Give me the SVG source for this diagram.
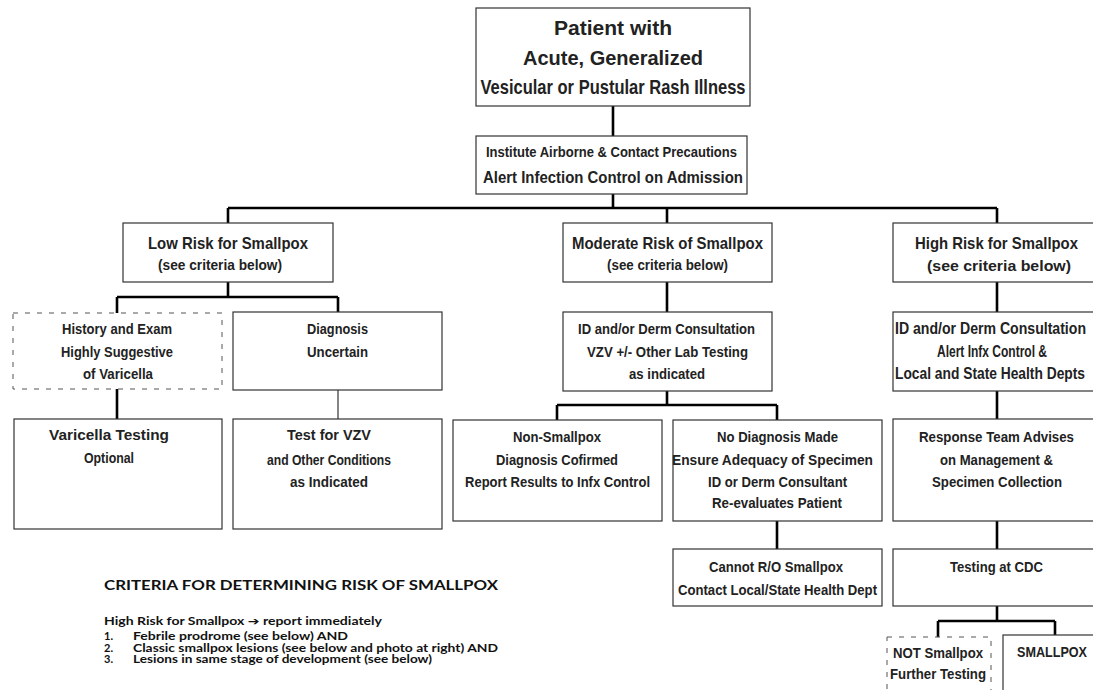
<svg xmlns="http://www.w3.org/2000/svg" width="1093" height="690" viewBox="0 0 1093 690">
<style>
.box{fill:#fff;stroke:#333;stroke-width:1.2}
.dash{fill:#fff;stroke:#555;stroke-width:1;stroke-dasharray:5 7}
.t{font-family:"Liberation Sans Narrow","Liberation Sans",Arial,sans-serif;font-weight:bold;fill:#222;text-anchor:middle}
.c{font-family:Lato,"Open Sans","Liberation Sans",sans-serif;fill:#111}
.thick{stroke:#000;stroke-width:2.6;fill:none}
.thin{stroke:#333;stroke-width:1.2;fill:none}
</style>
<rect width="1093" height="690" fill="#fff"/>
<g id="connectors">
<path class="thick" d="M613 106V136M613 194V208M228 208H997M228 208V223M667 208V223M997 208V223"/>
<path class="thick" d="M228 282V297M117 297H338M117 297V313M338 297V312M117 389V419"/>
<path class="thin" d="M338 390V419"/>
<path class="thick" d="M667 282V312M667 391V405M557 405H777M557 405V420M777 405V420M777 521V549"/>
<path class="thick" d="M997 282V312M997 391V419M997 521V549M997 606V621M938 621H1055M938 621V637M1055 621V635"/>
</g>
<g id="n-patient"><rect class="box" x="476" y="8" width="274" height="98"/>
<text class="t" font-size="20.5"><tspan x="613" y="35" textLength="118" lengthAdjust="spacingAndGlyphs">Patient with</tspan><tspan x="613" y="65" textLength="180" lengthAdjust="spacingAndGlyphs">Acute, Generalized</tspan><tspan x="613" y="94" textLength="265" lengthAdjust="spacingAndGlyphs">Vesicular or Pustular Rash Illness</tspan></text></g>
<g id="n-precautions"><rect class="box" x="476" y="136" width="271" height="58"/>
<text class="t" font-size="15"><tspan x="611.5" y="157" textLength="251" lengthAdjust="spacingAndGlyphs">Institute Airborne &amp; Contact Precautions</tspan></text>
<text class="t" font-size="16.5"><tspan x="613" y="183" textLength="260" lengthAdjust="spacingAndGlyphs">Alert Infection Control on Admission</tspan></text></g>
<g id="n-low"><rect class="box" x="123" y="223" width="210" height="59"/>
<text class="t" font-size="17"><tspan x="228" y="248.5" textLength="160" lengthAdjust="spacingAndGlyphs">Low Risk for Smallpox</tspan></text>
<text class="t" font-size="14"><tspan x="220" y="270" textLength="124" lengthAdjust="spacingAndGlyphs">(see criteria below)</tspan></text></g>
<g id="n-moderate"><rect class="box" x="563" y="223" width="209" height="59"/>
<text class="t" font-size="17"><tspan x="667.5" y="248.5" textLength="191" lengthAdjust="spacingAndGlyphs">Moderate Risk of Smallpox</tspan></text>
<text class="t" font-size="14"><tspan x="667.5" y="270" textLength="121" lengthAdjust="spacingAndGlyphs">(see criteria below)</tspan></text></g>
<g id="n-high"><rect class="box" x="893" y="223" width="210" height="59"/>
<text class="t" font-size="17"><tspan x="996.5" y="248.5" textLength="163" lengthAdjust="spacingAndGlyphs">High Risk for Smallpox</tspan></text>
<text class="t" font-size="15"><tspan x="999" y="270.5" textLength="144" lengthAdjust="spacingAndGlyphs">(see criteria below)</tspan></text></g>
<g id="n-history"><rect class="dash" x="13" y="313" width="209" height="76"/>
<text class="t" font-size="15.5"><tspan x="117" y="333.5" textLength="110" lengthAdjust="spacingAndGlyphs">History and Exam</tspan><tspan x="117" y="356.5" textLength="112" lengthAdjust="spacingAndGlyphs">Highly Suggestive</tspan><tspan x="118" y="378.5" textLength="70" lengthAdjust="spacingAndGlyphs">of Varicella</tspan></text></g>
<g id="n-uncertain"><rect class="box" x="233" y="312" width="209" height="78"/>
<text class="t" font-size="15.5"><tspan x="337.5" y="333.5" textLength="61" lengthAdjust="spacingAndGlyphs">Diagnosis</tspan><tspan x="337.5" y="356.5" textLength="61" lengthAdjust="spacingAndGlyphs">Uncertain</tspan></text></g>
<g id="n-idmod"><rect class="box" x="563" y="312" width="209" height="79"/>
<text class="t" font-size="15.5"><tspan x="666.5" y="333.5" textLength="177" lengthAdjust="spacingAndGlyphs">ID and/or Derm Consultation</tspan><tspan x="667.5" y="356.5" textLength="161" lengthAdjust="spacingAndGlyphs">VZV +/- Other Lab Testing</tspan><tspan x="667" y="378.5" textLength="76" lengthAdjust="spacingAndGlyphs">as indicated</tspan></text></g>
<g id="n-idhigh"><rect class="box" x="893" y="312" width="210" height="79"/>
<text class="t" font-size="16"><tspan x="990.5" y="333.5" textLength="191" lengthAdjust="spacingAndGlyphs">ID and/or Derm Consultation</tspan><tspan x="992" y="356.5" textLength="110" lengthAdjust="spacingAndGlyphs">Alert Infx Control &amp;</tspan><tspan x="990" y="378.5" textLength="190" lengthAdjust="spacingAndGlyphs">Local and State Health Depts</tspan></text></g>
<g id="n-vartest"><rect class="box" x="14" y="419" width="208" height="110"/>
<text class="t" font-size="15.5"><tspan x="109" y="440" textLength="120" lengthAdjust="spacingAndGlyphs">Varicella Testing</tspan><tspan x="109" y="463" textLength="50" lengthAdjust="spacingAndGlyphs">Optional</tspan></text></g>
<g id="n-testvzv"><rect class="box" x="233" y="419" width="209" height="110"/>
<text class="t" font-size="15.5"><tspan x="329" y="440" textLength="84" lengthAdjust="spacingAndGlyphs">Test for VZV</tspan><tspan x="329" y="465" textLength="124" lengthAdjust="spacingAndGlyphs">and Other Conditions</tspan><tspan x="329" y="487" textLength="78" lengthAdjust="spacingAndGlyphs">as Indicated</tspan></text></g>
<g id="n-nonsmallpox"><rect class="box" x="453" y="420" width="209" height="101"/>
<text class="t" font-size="15.5"><tspan x="557" y="442" textLength="88" lengthAdjust="spacingAndGlyphs">Non-Smallpox</tspan><tspan x="557" y="465" textLength="122" lengthAdjust="spacingAndGlyphs">Diagnosis Cofirmed</tspan><tspan x="557.5" y="487" textLength="185" lengthAdjust="spacingAndGlyphs">Report Results to Infx Control</tspan></text></g>
<g id="n-nodiag"><rect class="box" x="673" y="420" width="209" height="101"/>
<text class="t" font-size="15.5"><tspan x="777.5" y="442" textLength="121" lengthAdjust="spacingAndGlyphs">No Diagnosis Made</tspan><tspan x="772.5" y="465" textLength="201" lengthAdjust="spacingAndGlyphs">Ensure Adequacy of Specimen</tspan><tspan x="777.5" y="487" textLength="139" lengthAdjust="spacingAndGlyphs">ID or Derm Consultant</tspan><tspan x="777" y="508" textLength="130" lengthAdjust="spacingAndGlyphs">Re-evaluates Patient</tspan></text></g>
<g id="n-response"><rect class="box" x="893" y="419" width="210" height="102"/>
<text class="t" font-size="15.5"><tspan x="996.5" y="442" textLength="155" lengthAdjust="spacingAndGlyphs">Response Team Advises</tspan><tspan x="996.5" y="465" textLength="113" lengthAdjust="spacingAndGlyphs">on Management &amp;</tspan><tspan x="997" y="487" textLength="130" lengthAdjust="spacingAndGlyphs">Specimen Collection</tspan></text></g>
<g id="n-cannot"><rect class="box" x="673" y="549" width="209" height="57"/>
<text class="t" font-size="15.5"><tspan x="776" y="572" textLength="134" lengthAdjust="spacingAndGlyphs">Cannot R/O Smallpox</tspan><tspan x="777.5" y="595" textLength="199" lengthAdjust="spacingAndGlyphs">Contact Local/State Health Dept</tspan></text></g>
<g id="n-cdc"><rect class="box" x="893" y="549" width="210" height="57"/>
<text class="t" font-size="15.5"><tspan x="996.5" y="572" textLength="93" lengthAdjust="spacingAndGlyphs">Testing at CDC</tspan></text></g>
<g id="n-notsmallpox"><rect class="dash" x="887" y="637" width="104" height="60"/>
<text class="t" font-size="15.5"><tspan x="938" y="658" textLength="90" lengthAdjust="spacingAndGlyphs">NOT Smallpox</tspan><tspan x="938" y="679" textLength="96" lengthAdjust="spacingAndGlyphs">Further Testing</tspan></text></g>
<g id="n-smallpox"><rect class="box" x="1003" y="635" width="104" height="60"/>
<text class="t" font-size="15.5"><tspan x="1052" y="657" textLength="70" lengthAdjust="spacingAndGlyphs">SMALLPOX</tspan></text></g>
<g id="criteria">
<text class="c" font-size="12.5" font-weight="bold" x="104" y="590" textLength="394" lengthAdjust="spacingAndGlyphs">CRITERIA FOR DETERMINING RISK OF SMALLPOX</text>
<text class="c" font-size="11" font-weight="bold" x="104" y="625" textLength="278" lengthAdjust="spacingAndGlyphs">High Risk for Smallpox <tspan font-family="DejaVu Sans">➔</tspan> report immediately</text>
<text class="c" font-size="11" font-weight="bold"><tspan x="104" y="640">1.</tspan><tspan x="133" y="640" textLength="215" lengthAdjust="spacingAndGlyphs">Febrile prodrome (see below) AND</tspan><tspan x="104" y="651.5">2.</tspan><tspan x="133" y="651.5" textLength="365" lengthAdjust="spacingAndGlyphs">Classic smallpox lesions (see below and photo at right) AND</tspan><tspan x="104" y="663">3.</tspan><tspan x="133" y="663" textLength="299" lengthAdjust="spacingAndGlyphs">Lesions in same stage of development (see below)</tspan></text>
</g>
</svg>
